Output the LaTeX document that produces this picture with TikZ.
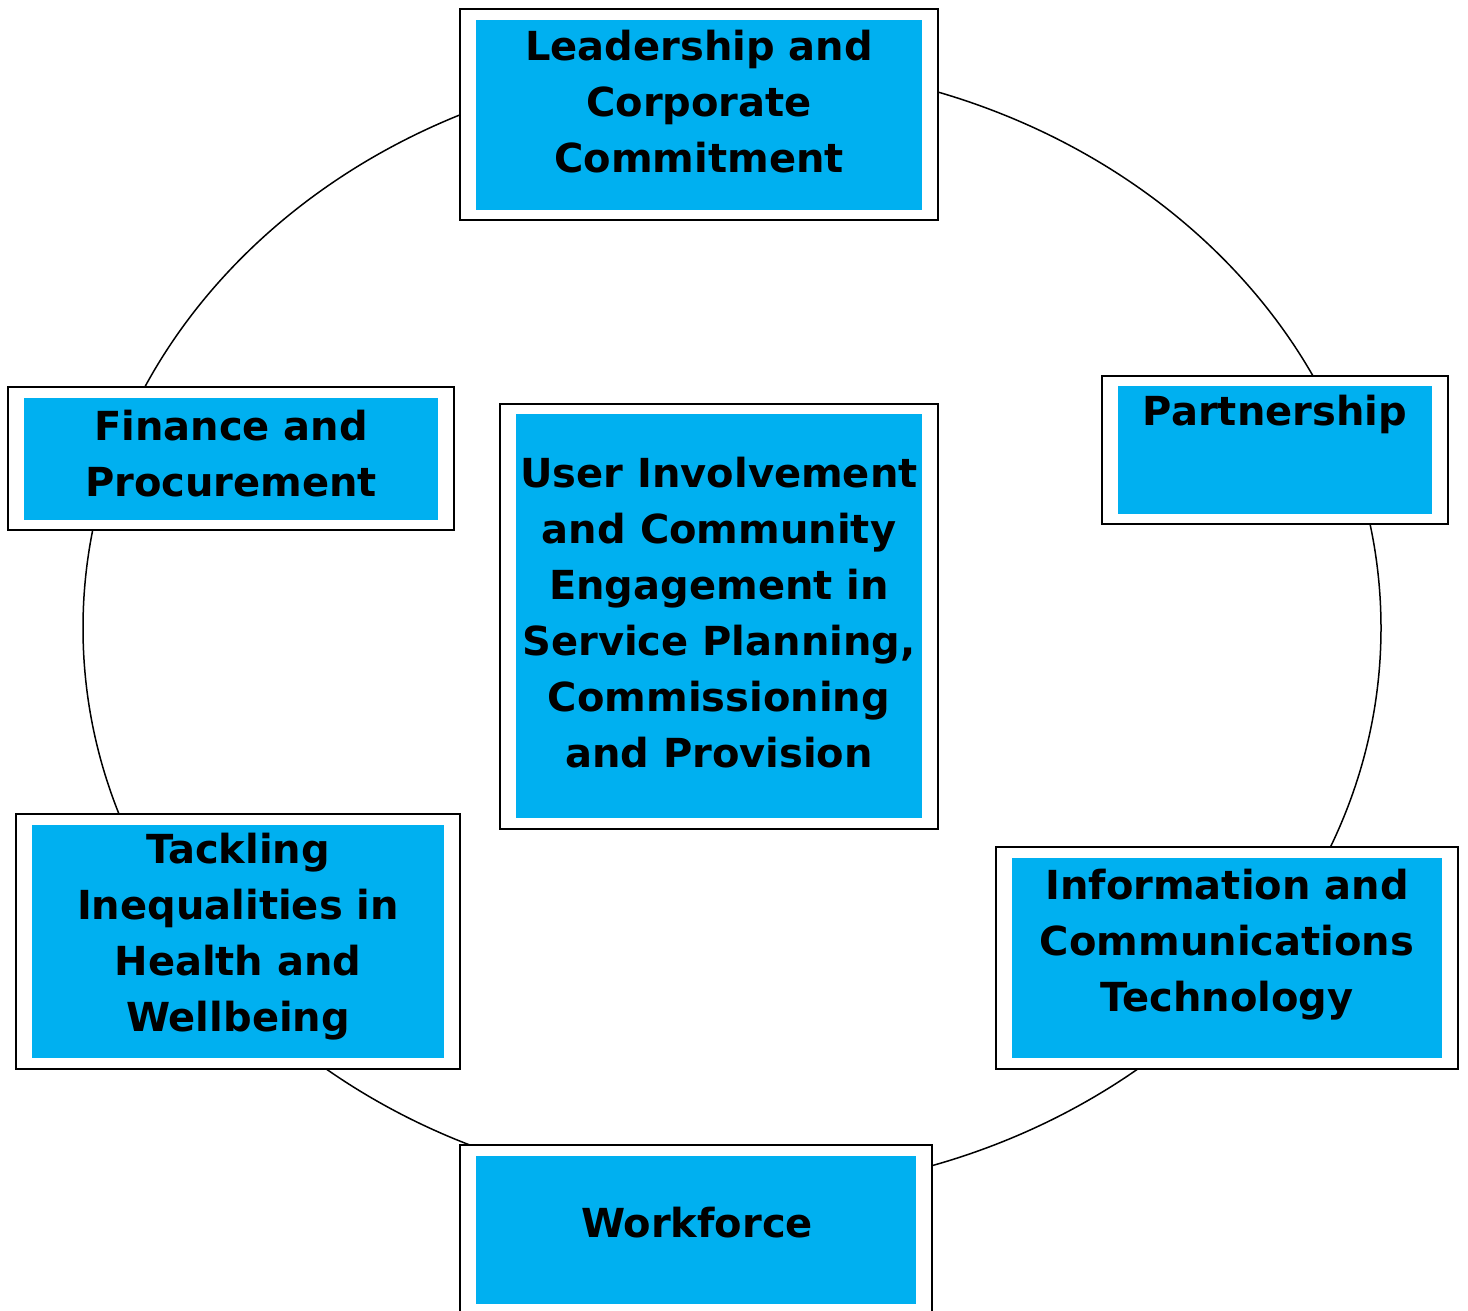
\documentclass[tikz,border=0pt]{standalone}
\usepackage{fontspec}
\setmainfont{DejaVu Sans}
\usetikzlibrary{positioning}
\definecolor{boxblue}{HTML}{00B0F0}

\begin{document}
\begin{tikzpicture}[x=0.5pt,y=-0.5pt,
		outerbox/.style={draw=black,fill=white,line width=1pt},
		innerbox/.style={fill=boxblue},
		boxtext/.style={align=center,font=\bfseries\fontsize{20}{28}\selectfont,inner sep=0pt}]
			\useasboundingbox (0,0) rectangle (1468,1311);
			% ring behind the boxes
			\draw[line width=0.75pt] (732,628) ellipse [x radius=649, y radius=565];
			% frames
			\draw[outerbox] (460,9) rectangle (938,220);
			\fill[innerbox] (476,20) rectangle (922,210);
			\draw[outerbox] (8,387) rectangle (454,530);
			\fill[innerbox] (24,398) rectangle (438,520);
			\draw[outerbox] (1102,376) rectangle (1448,524);
			\fill[innerbox] (1118,386) rectangle (1432,514);
			\draw[outerbox] (500,404) rectangle (938,829);
			\fill[innerbox] (516,414) rectangle (922,818);
			\draw[outerbox] (16,814) rectangle (460,1069);
			\fill[innerbox] (32,825) rectangle (444,1058);
			\draw[outerbox] (996,847) rectangle (1458,1069);
			\fill[innerbox] (1012,858) rectangle (1442,1058);
			\draw[outerbox] (460,1145) rectangle (932,1330);
			\fill[innerbox] (476,1156) rectangle (916,1304);
			% labels
			\node[boxtext] (lead) at (699,102) {Leadership and\\Corporate\\Commitment};
			\node[boxtext] (fin) at (231,454) {Finance and\\Procurement};
			\node[boxtext] (part) at (1275,414) {Partnership};
			\node[boxtext] (user) at (719,613) {User Involvement\\and Community\\Engagement in\\Service Planning,\\Commissioning\\and Provision};
			\node[boxtext] (tack) at (238,937) {Tackling\\Inequalities in\\Health and\\Wellbeing};
			\node[boxtext] (ict) at (1227,945) {Information and\\Communications\\Technology};
			\node[boxtext] (work) at (697,1223) {Workforce};
\end{tikzpicture}
\end{document}
